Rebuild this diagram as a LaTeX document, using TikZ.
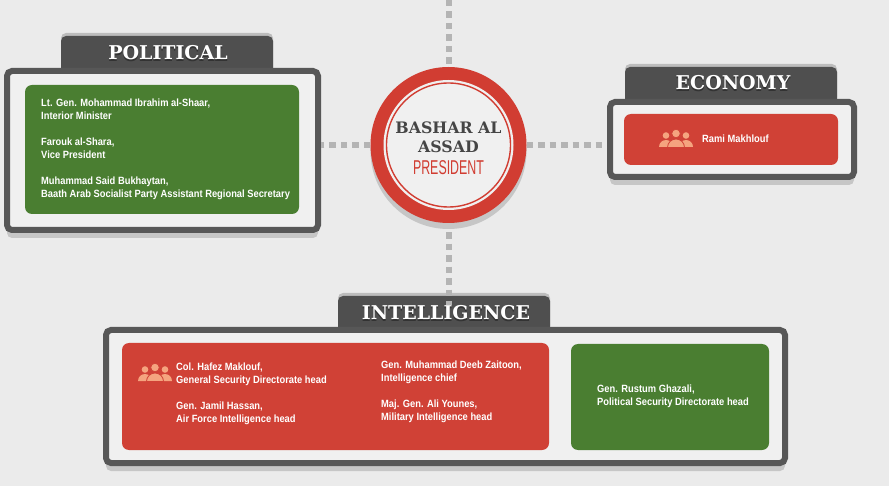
\documentclass[tikz,border=0pt]{standalone}
\usepackage{fontspec}
\setmainfont{Liberation Sans}
\newfontfamily\condfont[FakeStretch=0.89]{Liberation Sans Bold}
\newfontfamily\slabfont{DejaVu Serif Bold}
\newfontfamily\narrowfont[FakeStretch=0.62]{Liberation Sans}
\usetikzlibrary{positioning,shadows}

\definecolor{paper}{HTML}{EBEBEB}
\definecolor{panel}{HTML}{F0F0F0}
\definecolor{framegray}{HTML}{575757}
\definecolor{tabgray}{HTML}{4F4F4F}
\definecolor{tabedge}{HTML}{BDBDBD}
\definecolor{shade}{HTML}{C6C6C6}
\definecolor{dashgray}{HTML}{B4B4B4}
\definecolor{boxgreen}{HTML}{4A7E31}
\definecolor{boxred}{HTML}{D04136}
\definecolor{ringred}{HTML}{D13D32}
\definecolor{darktext}{HTML}{454545}
\definecolor{salmon}{HTML}{F5A47F}

\tikzset{
  crowd/.pic={
    \fill[salmon] (-10,-2.5) circle[radius=3.3];
    \fill[salmon] (10,-2.5) circle[radius=3.3];
    \fill[salmon] (-17,9) arc[start angle=180,end angle=360,x radius=7,y radius=7] -- cycle;
    \fill[salmon] (3,9) arc[start angle=180,end angle=360,x radius=7,y radius=7] -- cycle;
    \filldraw[salmon, draw=boxred, line width=0.8pt] (0,-4.5) circle[radius=4.3];
    \filldraw[salmon, draw=boxred, line width=0.8pt] (-8.5,9.5) arc[start angle=180,end angle=360,x radius=8.5,y radius=8.5] -- cycle;
  }
}

\begin{document}
\begin{tikzpicture}[x=1pt, y=-1pt,
    frame/.style={draw=framegray, line width=6pt, fill=panel, rounded corners=5pt, inner sep=0pt,
      drop shadow={shadow xshift=0pt, shadow yshift=-8pt, fill=shade, opacity=1}},
    tab/.style={fill=tabgray, rounded corners=5pt, minimum width=212pt, inner sep=0pt,
      drop shadow={shadow xshift=0pt, shadow yshift=3pt, fill=tabedge, opacity=1}},
    box/.style={rounded corners=7pt, inner sep=0pt},
    head/.style={font=\slabfont\fontsize{19}{19}\selectfont, text=white, inner sep=0pt},
    headshadow/.style={font=\slabfont\fontsize{19}{19}\selectfont, text=black!80, inner sep=0pt},
    entry/.style={font=\condfont\fontsize{10.5}{13}\selectfont, text=white, align=left, inner sep=0pt, anchor=north west},
    link/.style={draw=dashgray, line width=6pt, dash pattern=on 6.5pt off 5pt},
  ]
  \useasboundingbox[fill=paper] (0,0) rectangle (889,486);

  % president
  \node[circle, fill=ringred, minimum size=156pt, inner sep=0pt,
    drop shadow={shadow xshift=0pt, shadow yshift=-6pt, fill=shade, opacity=1}] (pres) at (448.5,145) {};
  \node[circle, fill=panel, minimum size=130pt] (presin) at (pres) {};
  \node[circle, draw=ringred, line width=1.4pt, minimum size=124pt] (presring) at (pres) {};
  \node[font=\slabfont\fontsize{15.8}{15.8}\selectfont, text=darktext, inner sep=0pt] (name1) at (448.5,128) {BASHAR AL};
  \node[font=\slabfont\fontsize{15.8}{15.8}\selectfont, text=darktext, inner sep=0pt] (name2) at (448.5,147) {ASSAD};
  \node[font=\narrowfont\fontsize{20}{20}\selectfont, text=ringred, inner sep=0pt] (role) at (448.5,168) {PRESIDENT};

  % political
  \node[tab, minimum height=40pt] (poltab) at (167,56) {};
  \node[frame, minimum width=311pt, minimum height=159pt] (pol) at (162.5,150.5) {};
  \node[headshadow] (polshadow) at (168,54.5) {POLITICAL};
  \node[head] (polhead) at (168,53) {POLITICAL};
  \node[box, fill=boxgreen, minimum width=274pt, minimum height=129pt] (polbox) at (162,149.5) {};
  \node[entry] (shaar) at (41,99) {Lt. Gen. Mohammad Ibrahim al-Shaar,\\Interior Minister};
  \node[entry] (shara) at (41,138) {Farouk al-Shara,\\Vice President};
  \node[entry] (bukhaytan) at (41,177) {Muhammad Said Bukhaytan,\\Baath Arab Socialist Party Assistant Regional Secretary};

  % economy
  \node[tab, minimum height=38pt] (ecotab) at (731,86) {};
  \node[frame, minimum width=244pt, minimum height=75pt] (eco) at (732,139.5) {};
  \node[headshadow] (ecoshadow) at (733,84.5) {ECONOMY};
  \node[head] (ecohead) at (733,83) {ECONOMY};
  \node[box, fill=boxred, minimum width=214pt, minimum height=51pt] (ecobox) at (731,139.5) {};
  \pic at (676,138) {crowd};
  \node[entry, anchor=west] (makhlouf) at (702,139) {Rami Makhlouf};

  % intelligence
  \node[tab, minimum height=38pt] (inttab) at (444,315) {};
  \node[frame, minimum width=679pt, minimum height=133pt] (int) at (445.5,396.5) {};
  \node[headshadow] (intshadow) at (446,314.5) {INTELLIGENCE};
  \node[head] (inthead) at (446,313) {INTELLIGENCE};
  \node[box, fill=boxred, minimum width=427pt, minimum height=107pt] (intred) at (335.5,396.5) {};
  \node[box, fill=boxgreen, minimum width=198pt, minimum height=106pt] (intgreen) at (670,397) {};
  \pic at (155,372) {crowd};
  \node[entry] (maklouf) at (176,363) {Col. Hafez Maklouf,\\General Security Directorate head};
  \node[entry] (hassan) at (176,402) {Gen. Jamil Hassan,\\Air Force Intelligence head};
  \node[entry] (zaitoon) at (381,361) {Gen. Muhammad Deeb Zaitoon,\\Intelligence chief};
  \node[entry] (younes) at (381,400) {Maj. Gen. Ali Younes,\\Military Intelligence head};
  \node[entry] (ghazali) at (597,385) {Gen. Rustum Ghazali,\\Political Security Directorate head};

  % dashed links
  \coordinate (top) at (448.5,0);
  \draw[link] (top) -- (pres.north);
  \draw[link] ([yshift=-9pt]pres.south) -- ([yshift=-9pt]pres.south |- inttab.north);
  \draw[link] (pres.west) -- (pres.west -| pol.east);
  \draw[link] (pres.east) -- (pres.east -| eco.west);
\end{tikzpicture}
\end{document}
